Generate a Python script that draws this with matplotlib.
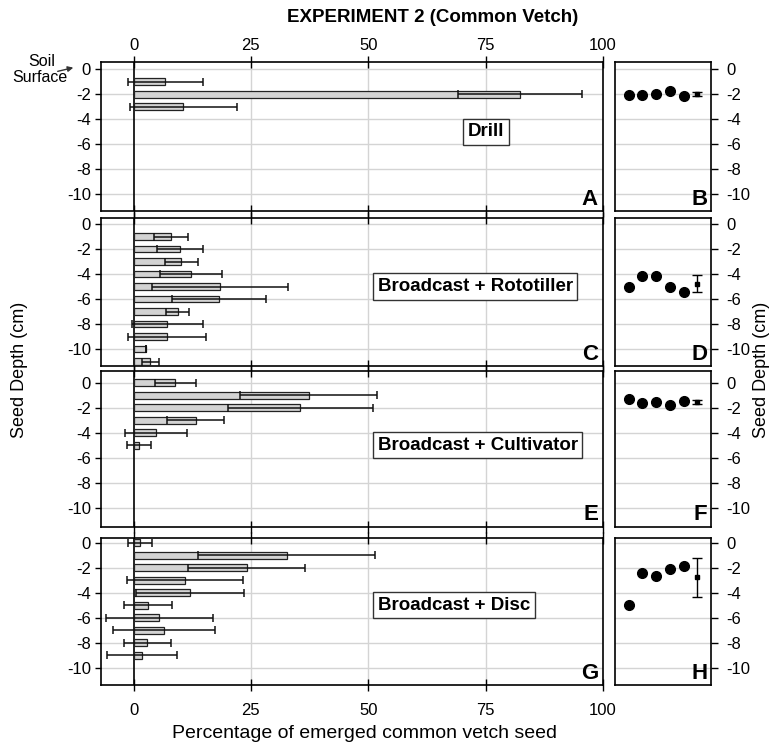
import matplotlib
matplotlib.use("Agg")
import matplotlib.pyplot as plt
import numpy as np

plt.rcParams['font.family'] = ['Liberation Sans', 'DejaVu Sans']

# ---- data ----
a_depth = [-1, -2, -3]
a_mean = [6.8, 82.3, 10.6]
a_err = [7.9, 13.2, 11.4]

c_depth = [-1, -2, -3, -4, -5, -6, -7, -8, -9, -10, -11]
c_mean = [8.0, 9.8, 10.2, 12.3, 18.4, 18.2, 9.4, 7.2, 7.2, 2.6, 3.6]
c_err = [3.6, 4.9, 3.5, 6.6, 14.4, 10.0, 2.5, 7.6, 8.3, 0.0, 1.8]

e_depth = [0, -1, -2, -3, -4, -5]
e_mean = [8.9, 37.3, 35.5, 13.2, 4.8, 1.1]
e_err = [4.3, 14.6, 15.4, 6.0, 6.6, 2.6]

g_depth = [0, -1, -2, -3, -4, -5, -6, -7, -8, -9]
g_mean = [1.4, 32.6, 24.1, 11.0, 12.1, 3.0, 5.5, 6.5, 2.9, 1.8]
g_err = [2.6, 18.8, 12.4, 12.3, 11.5, 5.1, 11.4, 10.8, 5.0, 7.5]

b_pts = [-2.07, -2.07, -2.0, -1.77, -2.1]
b_mean, b_err = -1.97, 0.15
d_pts = [-5.07, -4.13, -4.17, -5.07, -5.4]
d_mean, d_err = -4.77, 0.7
f_pts = [-1.33, -1.63, -1.53, -1.8, -1.47]
f_mean, f_err = -1.57, 0.15
h_pts = [-5.0, -2.4, -2.7, -2.07, -1.87]
h_mean, h_err = -2.77, 1.58

methods = ['Drill', 'Broadcast + Rototiller', 'Broadcast + Cultivator', 'Broadcast + Disc']
left_letters = ['A', 'C', 'E', 'G']
right_letters = ['B', 'D', 'F', 'H']
xticks = [0, 25, 50, 75, 100]
yticks = [0, -2, -4, -6, -8, -10]

W, H = 773, 744
fig = plt.figure(figsize=(W / 100, H / 100), dpi=100)

# panel rows in pixels: top, bottom, pixel of depth 0
rows = [(61.7, 211, 69.3), (218.3, 366, 224), (371, 527, 382.7), (537.7, 685, 542.7)]
pxcm = 12.5
lx0, lx1 = 100.7, 603
rx0, rx1 = 615, 711

bars = [(a_depth, a_mean, a_err), (c_depth, c_mean, c_err),
        (e_depth, e_mean, e_err), (g_depth, g_mean, g_err)]
dots = [(b_pts, b_mean, b_err), (d_pts, d_mean, d_err),
        (f_pts, f_mean, f_err), (h_pts, h_mean, h_err)]
# label box anchor (x in data units) and alignment
box_x = [75, 52, 52, 52]
box_ha = ['center', 'left', 'left', 'left']

grid_c = '#d4d4d4'

for i, (top, bot, zero) in enumerate(rows):
    ylim = (-(bot - zero) / pxcm, (zero - top) / pxcm)
    pos_y = 1 - bot / H
    h = (bot - top) / H

    # ---- left bar panel ----
    ax = fig.add_axes([lx0 / W, pos_y, (lx1 - lx0) / W, h])
    dep, mn, er = bars[i]
    ax.barh(dep, mn, height=0.55, color='#d3d3d3', edgecolor='#222222', linewidth=0.9, zorder=3)
    ax.errorbar(mn, dep, xerr=er, fmt='none', ecolor='#111111', elinewidth=1.1,
                capsize=2.8, capthick=1.1, zorder=4)
    ax.axvline(0, color='black', lw=1.2, zorder=2)
    ax.set_xlim(-7, 100)
    ax.set_ylim(*ylim)
    ax.set_yticks(yticks)
    ax.set_yticklabels([str(t) for t in yticks], fontsize=12)
    ax.set_xticks(xticks)
    for t in yticks:
        ax.axhline(t, color=grid_c, lw=1, zorder=1)
    for t in [25, 50, 75]:
        ax.axvline(t, color=grid_c, lw=1, zorder=1)
    ax.tick_params(axis='y', direction='out', length=4, width=1, left=True, pad=3)
    ax.tick_params(axis='x', direction='inout', length=8, width=1, top=True, bottom=True,
                   labeltop=(i == 0), labelbottom=(i == 3), labelsize=12)
    if i == 0:
        ax.tick_params(axis='x', pad=2)
    if i == 3:
        ax.tick_params(axis='x', pad=9)
    for s in ax.spines.values():
        s.set_linewidth(1.2)
    ax.text(box_x[i], -5, methods[i], ha=box_ha[i], va='center', fontsize=13.5, fontweight='bold',
            bbox=dict(boxstyle='square,pad=0.25', fc='white', ec='#333333', lw=1), zorder=5)
    ax.text(0.99, 0.01, left_letters[i], transform=ax.transAxes, ha='right', va='bottom',
            fontsize=16, fontweight='bold')

    # ---- right dot panel ----
    ax2 = fig.add_axes([rx0 / W, pos_y, (rx1 - rx0) / W, h])
    pts, m, e = dots[i]
    ax2.plot(range(1, 6), pts, 'o', color='black', ms=7, zorder=3)
    ax2.errorbar([6], [m], yerr=[e], fmt='s', color='black', ms=2.2, elinewidth=1,
                 capsize=3.5, capthick=1, zorder=3)
    ax2.set_xlim(0, 7)
    ax2.set_ylim(*ylim)
    ax2.set_xticks([])
    ax2.set_yticks(yticks)
    ax2.set_yticklabels([str(t) for t in yticks], fontsize=12)
    ax2.yaxis.tick_right()
    ax2.tick_params(axis='y', direction='out', length=5, width=1, pad=6)
    for t in yticks:
        ax2.axhline(t, color=grid_c, lw=1, zorder=1)
    for s in ax2.spines.values():
        s.set_linewidth(1.2)
    ax2.text(0.96, 0.01, right_letters[i], transform=ax2.transAxes, ha='right', va='bottom',
             fontsize=16, fontweight='bold')

# ---- titles and labels ----
fig.text(433 / W, 1 - 17 / H, 'EXPERIMENT 2 (Common Vetch)', ha='center', va='center',
         fontsize=13.5, fontweight='bold')
fig.text(365 / W, 1 - 733 / H, 'Percentage of emerged common vetch seed', ha='center',
         va='center', fontsize=14)
fig.text(20 / W, 1 - 370 / H, 'Seed Depth (cm)', rotation=90, ha='center', va='center',
         fontsize=13)
fig.text(762 / W, 1 - 370 / H, 'Seed Depth (cm)', rotation=90, ha='center', va='center',
         fontsize=13)

# soil surface note
fig.text(42 / W, 1 - 61 / H, 'Soil', ha='center', va='center', fontsize=11.5)
fig.text(40 / W, 1 - 77 / H, 'Surface', ha='center', va='center', fontsize=11.5)
fig.add_artist(matplotlib.patches.FancyArrowPatch(
    (55 / W, 1 - 72 / H), (76 / W, 1 - 67 / H), transform=fig.transFigure,
    arrowstyle='-|>', mutation_scale=8, color='#333333', lw=1))

fig.savefig('out.png', dpi=100)
